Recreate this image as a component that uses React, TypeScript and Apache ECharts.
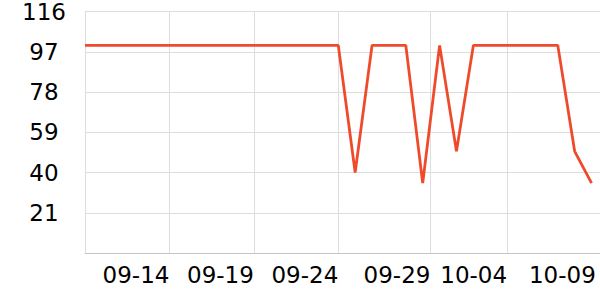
import React, { useEffect, useRef } from "react";
import * as echarts from "echarts";

const dates: string[] = [
  "2024-09-09", "2024-09-10", "2024-09-11", "2024-09-12", "2024-09-13",
  "2024-09-14", "2024-09-15", "2024-09-16", "2024-09-17", "2024-09-18",
  "2024-09-19", "2024-09-20", "2024-09-21", "2024-09-22", "2024-09-23",
  "2024-09-24", "2024-09-25", "2024-09-26", "2024-09-27", "2024-09-28",
  "2024-09-29", "2024-09-30", "2024-10-01", "2024-10-02", "2024-10-03",
  "2024-10-04", "2024-10-05", "2024-10-06", "2024-10-07", "2024-10-08",
  "2024-10-09",
];

const values: number[] = [
  100, 100, 100, 100, 100, 100, 100, 100, 100, 100,
  100, 100, 100, 100, 100, 100, 40, 100, 100, 100,
  35, 100, 50, 100, 100, 100, 100, 100, 100, 50,
  35,
];

const xMin = "2024-09-09";
const xMax = "2024-10-09 12:00";
const gridTicks: string[] = [
  "2024-09-09", "2024-09-14", "2024-09-19", "2024-09-24", "2024-09-29 11:00", "2024-10-04",
];
const labelTicks: string[] = [
  "2024-09-14", "2024-09-19", "2024-09-24", "2024-09-29 11:00", "2024-10-04", "2024-10-09 06:00",
];

const yMin = 2;
const yMax = 116;
const yInterval = 19;

const ts = (s: string) => echarts.time.parse(s).getTime();

export default function App() {
  const ref = useRef<HTMLDivElement>(null);
  useEffect(() => {
    if (!ref.current) return;
    document.body.style.margin = "0";
    const chart = echarts.init(ref.current, null, { renderer: "svg" });
    chart.setOption({
      animation: false,
      grid: { left: 85, right: 0, top: 10, bottom: 47, containLabel: false },
      xAxis: {
        type: "time",
        min: ts(xMin),
        max: ts(xMax),
        axisLine: { show: true, lineStyle: { color: "#c4c4c4", width: 1 } },
        axisTick: { show: false, customValues: gridTicks.map(ts) },
        splitLine: { show: true, lineStyle: { color: "#dddddd", width: 1 } },
        axisLabel: {
          customValues: labelTicks.map(ts),
          formatter: "{MM}-{dd}",
          align: "right",
          margin: 10,
          fontSize: 23,
          color: "#000",
          fontFamily: "DejaVu Sans",
        },
      },
      yAxis: {
        type: "value",
        min: yMin,
        max: yMax,
        interval: yInterval,
        axisLine: { show: false },
        axisTick: { show: false },
        splitLine: { show: true, lineStyle: { color: "#dddddd", width: 1 } },
        axisLabel: {
          showMinLabel: false,
          align: "center",
          verticalAlign: "middle",
          padding: [8, 0, 0, 0],
          margin: 41,
          fontSize: 23,
          color: "#000",
          fontFamily: "DejaVu Sans",
        },
      },
      series: [
        {
          type: "line",
          data: dates.map((d, i) => [ts(d), values[i]]),
          showSymbol: false,
          symbol: "none",
          lineStyle: { color: "#f04a2c", width: 2.8 },
          itemStyle: { color: "#f04a2c" },
        },
      ],
    });
    return () => chart.dispose();
  }, []);
  return <div ref={ref} style={{ width: 600, height: 300 }} />;
}
